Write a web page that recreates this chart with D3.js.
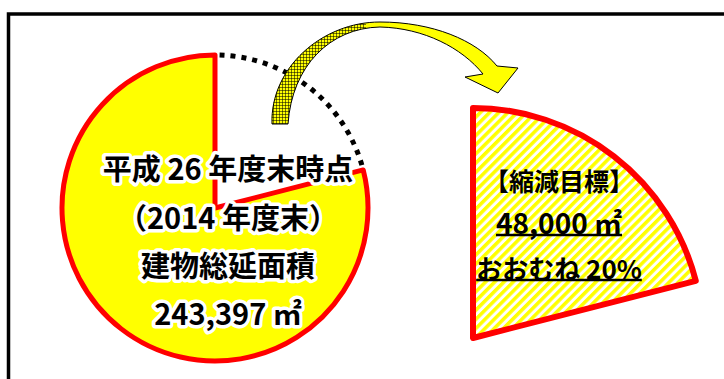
<!DOCTYPE html>
<html>
<head>
<meta charset="utf-8">
<script src="https://cdn.jsdelivr.net/npm/d3@7"></script>
<style>
  body { margin: 0; background: #fff; }
  svg { display: block; }
</style>
</head>
<body>
<div id="chart"></div>
<script>
// Values shown in the picture
const areaValues = [48000, 243397];          // reduction target, total floor area (㎡)
const sliceNames = ["縮減目標", "残り"];
const sliceShares = [21, 79];                // share of the pie as drawn (%)
const pieLabels = ["平成 26 年度末時点", "（2014 年度末）", "建物総延面積"];
const targetLabels = ["【縮減目標】", "おおむね 20%"];

const width = 724;
const height = 379;
const fmt = d3.format(",");

const svg = d3.select("#chart").append("svg")
    .attr("width", width)
    .attr("height", height);

const defs = svg.append("defs");

// fine cross-hatch for the back side of the arrow
const hatch = defs.append("pattern")
    .attr("id", "hatch")
    .attr("patternUnits", "userSpaceOnUse")
    .attr("width", 3)
    .attr("height", 3);
hatch.append("rect").attr("width", 3).attr("height", 3).attr("fill", "#ffff00");
hatch.append("path")
    .attr("d", "M0,0.5H3M0.5,0V3")
    .attr("stroke", "#000")
    .attr("stroke-opacity", 0.65)
    .attr("stroke-width", 0.8);

// diagonal stripes for the target wedge
const stripes = defs.append("pattern")
    .attr("id", "stripes")
    .attr("patternUnits", "userSpaceOnUse")
    .attr("width", 6.5)
    .attr("height", 6.5)
    .attr("patternTransform", "rotate(45)");
stripes.append("rect").attr("width", 6.5).attr("height", 6.5).attr("fill", "#fff");
stripes.append("rect").attr("width", 3.5).attr("height", 6.5).attr("fill", "#ffff00");

// outer frame (runs off the right and bottom edges)
svg.append("rect")
    .attr("x", 8.5)
    .attr("y", 14)
    .attr("width", 800)
    .attr("height", 500)
    .attr("fill", "none")
    .attr("stroke", "#000")
    .attr("stroke-width", 3.5);

const pie = d3.pie().sort(null).value(d => d);
const arcs = pie(sliceShares);

// left pie: total floor area with the target slice cut out
const pieCx = 215, pieCy = 208, pieR = 153;
const pieG = svg.append("g")
    .attr("transform", `translate(${pieCx},${pieCy})`);

const arcMain = d3.arc().innerRadius(0).outerRadius(pieR);

pieG.append("path")
    .attr("class", "slice")
    .attr("d", arcMain(arcs[1]))
    .attr("fill", "#ffff00")
    .attr("stroke", "#ff0000")
    .attr("stroke-width", 5)
    .attr("stroke-linejoin", "round");

// curved arrow from the pie to the target wedge
function arrowPath() {
    const p = d3.path();
    p.moveTo(272, 124);
    p.bezierCurveTo(270, 68, 322, 22, 380, 22);
    p.bezierCurveTo(432, 22, 476, 40, 497, 66);
    p.lineTo(518, 68);
    p.lineTo(498, 93);
    p.lineTo(465, 77);
    p.lineTo(483, 74);
    p.bezierCurveTo(462, 48, 424, 28, 380, 27);
    p.bezierCurveTo(330, 28, 292, 66, 288, 124);
    p.closePath();
    return p.toString();
}

const arrowG = svg.append("g").attr("class", "arrow");
arrowG.append("path")
    .attr("d", arrowPath())
    .attr("fill", "#ffff00");

defs.append("clipPath").attr("id", "arrowBack")
    .append("rect")
    .attr("x", 0).attr("y", 0)
    .attr("width", 366).attr("height", 200);

arrowG.append("path")
    .attr("d", arrowPath())
    .attr("fill", "url(#hatch)")
    .attr("clip-path", "url(#arrowBack)");

arrowG.append("path")
    .attr("d", arrowPath())
    .attr("fill", "none")
    .attr("stroke", "#000")
    .attr("stroke-width", 1);

// dotted outline where the slice was removed
const gap = arcs[0];
const dotted = d3.path();
dotted.arc(0, 0, pieR, gap.startAngle - Math.PI / 2 + 0.03, gap.endAngle - Math.PI / 2 - 0.01);
pieG.append("path")
    .attr("d", dotted.toString())
    .attr("fill", "none")
    .attr("stroke", "#000")
    .attr("stroke-width", 5)
    .attr("stroke-dasharray", "5,6");

// right wedge: the target slice, enlarged
const wedgeX = 473, wedgeY = 338, wedgeR = 230;
const arcWedge = d3.arc().innerRadius(0).outerRadius(wedgeR);
svg.append("g")
    .attr("transform", `translate(${wedgeX},${wedgeY})`)
    .append("path")
    .attr("d", arcWedge(gap))
    .attr("fill", "url(#stripes)")
    .attr("stroke", "#ff0000")
    .attr("stroke-width", 6)
    .attr("stroke-linejoin", "round");

// labels on the pie (white halo)
const fontFamily = "'Noto Sans CJK JP', 'Noto Sans', sans-serif";
const pieLines = pieLabels.concat([`${fmt(areaValues[1])} ㎡`]);
const pieLineY = [167, 216, 264, 312];

svg.append("g")
    .selectAll("text")
    .data(pieLines)
    .join("text")
    .attr("x", 228)
    .attr("y", (d, i) => pieLineY[i])
    .attr("text-anchor", "middle")
    .attr("dominant-baseline", "central")
    .style("font-family", fontFamily)
    .style("font-size", "29px")
    .style("font-weight", "700")
    .attr("fill", "#000")
    .attr("stroke", "#fff")
    .attr("stroke-width", 7)
    .attr("stroke-linejoin", "round")
    .attr("paint-order", "stroke")
    .text(d => d);

// labels on the target wedge
const targetLines = [targetLabels[0], `${fmt(areaValues[0])} ㎡`, targetLabels[1]];
const targetLineY = [180, 222, 267];
const targetSize = [25, 28, 26];

const tg = svg.append("g");
targetLines.forEach((t, i) => {
    const txt = tg.append("text")
        .attr("x", 559)
        .attr("y", targetLineY[i])
        .attr("text-anchor", "middle")
        .attr("dominant-baseline", "central")
        .style("font-family", fontFamily)
        .style("font-size", targetSize[i] + "px")
        .style("font-weight", "700")
        .attr("fill", "#000")
        .text(t);
    if (i > 0) {
        const w = txt.node().getComputedTextLength();
        tg.append("line")
            .attr("x1", 559 - w / 2)
            .attr("x2", 559 + w / 2)
            .attr("y1", targetLineY[i] + 13)
            .attr("y2", targetLineY[i] + 13)
            .attr("stroke", "#000")
            .attr("stroke-width", 2.5);
    }
});
</script>
</body>
</html>
